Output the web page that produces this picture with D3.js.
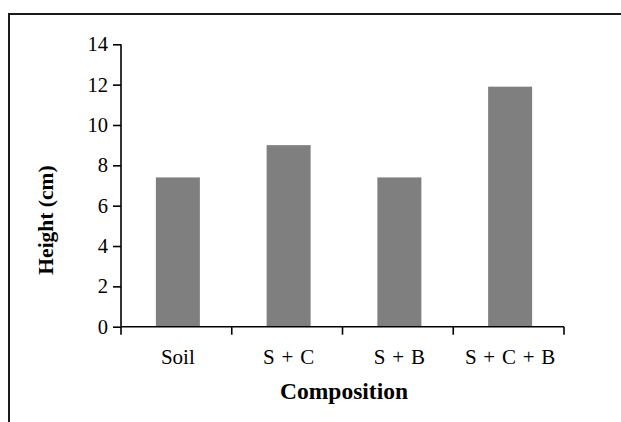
<!DOCTYPE html>
<html>
<head>
<meta charset="utf-8">
<script src="https://cdn.jsdelivr.net/npm/d3@7"></script>
<style>
  html, body { margin: 0; padding: 0; background: #fff; }
  svg { display: block; }
</style>
</head>
<body>
<svg id="chart" width="621" height="422"></svg>
<script>
const categories = ["Soil", "S + C", "S + B", "S + C + B"];
const heights = [7.4, 9.0, 7.4, 11.9];
const yTicks = [0, 2, 4, 6, 8, 10, 12, 14];
const yTitle = "Height (cm)";
const xTitle = "Composition";

const svg = d3.select("#chart");
const font = "'Liberation Serif', 'Times New Roman', serif";

// outer frame (top and left edges visible)
svg.append("path")
  .attr("d", "M9,422 V14 H621")
  .attr("fill", "none").attr("stroke", "#1a1a1a").attr("stroke-width", 2);

const x = d3.scaleBand().domain(categories).range([121, 564]).padding(0);
const y = d3.scaleLinear().domain([0, 14]).range([326.7, 44.3]);
const barW = 44;

svg.append("g").selectAll("rect")
  .data(categories)
  .join("rect")
  .attr("x", (d) => x(d) + x.bandwidth() / 2 - barW / 2 + 1.5)
  .attr("width", barW)
  .attr("y", (d, i) => y(heights[i]))
  .attr("height", (d, i) => y(0) - y(heights[i]))
  .attr("fill", "#7f7f7f");

// y axis
const yAxis = d3.axisLeft(y).tickValues(yTicks).tickSize(8).tickPadding(5).tickFormat(d3.format("d"));
const gy = svg.append("g").attr("transform", "translate(121,0)").call(yAxis);
gy.select(".domain").attr("d", `M0,${y(14)}V${y(0)}`).attr("stroke", "#000").attr("stroke-width", 1.6);
gy.selectAll(".tick line").attr("stroke", "#000").attr("stroke-width", 1.6);
gy.selectAll(".tick text").attr("font-family", font).attr("font-size", 20.5).attr("fill", "#000");

// x axis
const gx = svg.append("g").attr("transform", `translate(0,${y(0)})`);
gx.append("line").attr("x1", 121).attr("x2", 564).attr("y1", 0).attr("y2", 0)
  .attr("stroke", "#000").attr("stroke-width", 1.6);
const boundaries = categories.map((d) => x(d)).concat([x(categories[categories.length - 1]) + x.bandwidth()]);
gx.selectAll("line.bt").data(boundaries).join("line").attr("class", "bt")
  .attr("x1", (d) => d).attr("x2", (d) => d).attr("y1", 0).attr("y2", 8)
  .attr("stroke", "#000").attr("stroke-width", 1.6);
gx.selectAll("text").data(categories).join("text")
  .attr("x", (d) => x(d) + x.bandwidth() / 2 + 1.5)
  .attr("y", 37)
  .attr("text-anchor", "middle")
  .attr("font-family", font).attr("font-size", 21).attr("fill", "#000")
  .attr("word-spacing", 1.5)
  .text((d) => d);

// titles
svg.append("text")
  .attr("x", 344).attr("y", 399)
  .attr("text-anchor", "middle")
  .attr("font-family", font).attr("font-size", 23.5).attr("font-weight", "bold")
  .text(xTitle);

svg.append("text")
  .attr("transform", "translate(53,220) rotate(-90)")
  .attr("text-anchor", "middle")
  .attr("font-family", font).attr("font-size", 21.5).attr("font-weight", "bold")
  .text(yTitle);
</script>
</body>
</html>
